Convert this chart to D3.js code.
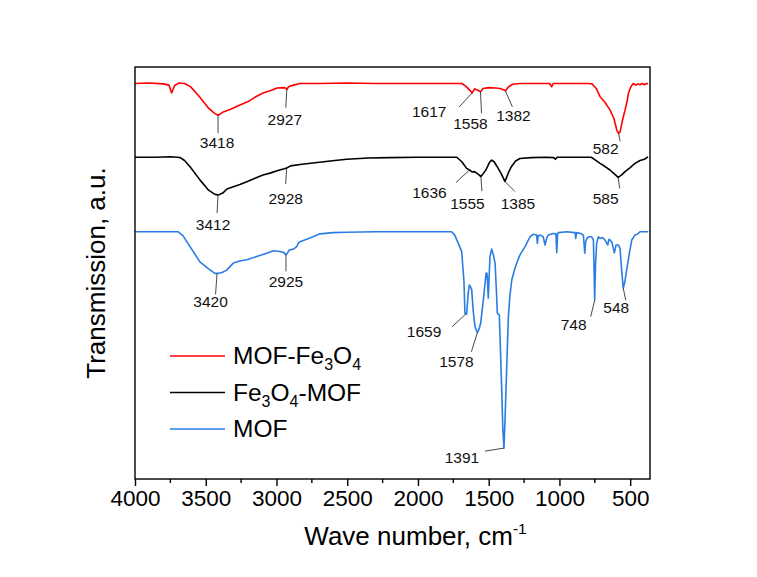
<!DOCTYPE html>
<html>
<head>
<meta charset="utf-8">
<script src="https://cdn.jsdelivr.net/npm/d3@7/dist/d3.min.js"></script>
<style>
  html, body { margin: 0; padding: 0; background: #fff; }
  svg { display: block; font-family: "Liberation Sans", Arial, Helvetica, sans-serif; }
</style>
</head>
<body>
<svg id="chart" width="757" height="577"></svg>
<script>
// ---------- DATA (wavenumber cm-1, transmission a.u.) ----------
const seriesNames = ["MOF-Fe3O4", "Fe3O4-MOF", "MOF"];

const mofFe3o4 = [
  [4000,96.0],[3900,96.1],[3800,95.9],[3760,95.6],[3741,93.7],[3720,95.5],[3690,96.1],[3650,96.0],
  [3610,95.3],[3550,93.0],[3480,90.0],[3440,88.8],[3413,88.3],[3380,89.0],[3320,89.8],[3258,90.8],
  [3200,91.6],[3150,92.7],[3095,93.7],[3040,94.3],[2996,94.9],[2950,95.0],[2935,94.9],[2927,94.5],
  [2915,95.2],[2880,95.6],[2834,96.0],[2700,96.0],[2500,96.1],[2300,96.0],[2000,96.0],[1800,96.0],
  [1690,96.0],[1660,95.3],[1630,94.2],[1617,93.7],[1600,94.7],[1585,94.5],[1558,94.0],[1540,94.8],
  [1500,95.0],[1450,94.9],[1420,94.8],[1395,94.5],[1382,94.2],[1360,95.2],[1330,95.8],[1280,96.0],
  [1150,96.0],[1070,96.0],[1055,95.2],[1045,96.0],[900,96.0],[800,96.0],[770,95.9],[740,94.8],
  [713,92.8],[680,91.5],[643,89.6],[615,87.5],[595,84.7],[582,83.9],[572,84.2],[555,87.0],
  [536,89.6],[520,92.0],[512,93.7],[495,95.2],[478,96.0],[460,95.6],[445,95.9],[430,95.7],
  [415,96.0],[400,95.7],[385,96.0],[374,95.9]
];

const fe3o4Mof = [
  [4000,78.1],[3850,78.1],[3750,78.2],[3700,78.1],[3680,78.0],[3650,77.3],[3611,75.8],[3541,72.6],
  [3480,70.1],[3440,69.2],[3413,68.9],[3380,69.4],[3350,70.4],[3300,71.0],[3258,71.5],[3180,72.6],
  [3095,73.8],[3040,74.3],[2996,74.8],[2945,75.3],[2928,75.5],[2900,76.0],[2820,76.4],[2742,76.7],
  [2620,77.2],[2504,77.6],[2350,77.9],[2200,78.0],[2000,78.1],[1800,78.1],[1726,78.1],[1690,77.0],
  [1656,75.4],[1636,75.0],[1615,74.5],[1600,74.6],[1575,74.0],[1555,73.4],[1535,74.3],[1520,75.0],
  [1495,76.8],[1479,77.4],[1462,77.0],[1440,75.8],[1410,74.0],[1385,72.2],[1360,74.4],[1340,75.8],
  [1310,77.2],[1279,77.8],[1200,78.0],[1100,78.1],[1040,78.0],[1029,77.6],[1015,78.1],[900,78.1],
  [800,78.1],[775,78.1],[745,77.4],[713,76.6],[680,75.9],[643,75.0],[610,74.0],[585,73.2],
  [560,73.8],[536,74.6],[500,75.6],[466,76.6],[430,77.3],[400,77.6],[374,78.2]
];

const mof = [
  [4000,60.0],[3850,60.0],[3694,60.0],[3660,59.0],[3611,56.4],[3541,52.7],[3480,51.0],[3435,49.9],
  [3413,49.9],[3380,50.2],[3352,50.7],[3305,52.4],[3260,52.9],[3210,53.2],[3140,54.0],[3069,54.8],
  [3022,55.4],[2975,55.2],[2950,55.0],[2933,54.4],[2920,55.0],[2910,55.6],[2880,55.8],[2857,56.4],
  [2845,57.3],[2834,57.6],[2763,58.5],[2692,59.5],[2600,59.8],[2504,59.9],[2300,60.0],[2000,60.0],
  [1800,60.0],[1762,60.0],[1740,59.2],[1715,57.2],[1691,55.2],[1675,48.0],[1668,40.2],[1656,40.0],
  [1645,45.0],[1637,47.1],[1628,46.6],[1620,45.9],[1610,41.0],[1597,37.0],[1580,35.5],[1567,36.5],
  [1557,37.8],[1538,43.4],[1519,49.9],[1513,50.0],[1510,49.0],[1503,43.9],[1497,49.0],[1491,54.0],
  [1479,55.8],[1467,54.4],[1455,52.4],[1446,46.0],[1439,40.2],[1425,39.8],[1408,21.6],[1400,12.0],
  [1392,7.5],[1385,14.0],[1378,21.6],[1361,39.4],[1350,44.5],[1337,48.3],[1320,50.5],[1302,52.4],
  [1279,54.4],[1243,56.4],[1208,58.8],[1185,59.4],[1161,59.2],[1156,57.2],[1150,59.0],[1137,59.2],
  [1115,58.8],[1102,56.8],[1090,58.5],[1079,59.2],[1043,59.6],[1025,59.5],[1019,54.9],[1013,59.5],
  [1008,59.8],[949,60.0],[890,59.8],[885,58.4],[878,59.8],[850,59.6],[831,59.2],[821,54.8],
  [815,57.6],[807,58.4],[790,58.8],[772,58.8],[760,58.0],[755,50.0],[751,43.4],[745,52.0],
  [737,57.2],[725,58.8],[713,58.4],[695,58.6],[678,58.0],[659,56.8],[650,58.2],[643,58.0],
  [630,57.5],[612,54.9],[600,56.8],[584,56.8],[572,56.0],[560,50.5],[549,46.3],[537,48.0],
  [525,50.7],[505,55.0],[489,58.0],[466,59.2],[450,59.4],[431,60.0],[400,60.0],[372,60.0]
];

const seriesData = [mofFe3o4, fe3o4Mof, mof];

// peak annotations
const peakLabels = ["3418","2927","1617","1558","1382","582",
                    "3412","2928","1636","1555","1385","585",
                    "3420","2925","1659","1578","1391","748","548"];
const peakSeries = [0,0,0,0,0,0, 1,1,1,1,1,1, 2,2,2,2,2,2,2];
const peakWave   = [3413,2927,1617,1558,1382,582, 3413,2928,1636,1555,1385,585, 3420,2933,1660,1580,1392,751,549];
const peakValue  = [88.3,94.5,93.7,94.0,94.2,83.9, 68.9,75.5,75.0,73.4,72.2,73.2, 49.9,54.4,40.1,35.5,7.5,43.4,46.3];

const xTicks = [4000,3500,3000,2500,2000,1500,1000,500];

// ---------- LAYOUT / STYLE ----------
const colors = ["#ff0000", "#000000", "#2b7de3"];
// leader-line end offset and text offset (px) for each annotation
const leaderOffsets = [
  [0,18,-1,33],[-1,18,-2,35],[-13,14,-43,24],[1,21.5,-10,37],[7,16,8,30],[1.5,8,-13,21],
  [-1,18,-5,35],[-1,16,-1,36],[-13.5,12.5,-40,28],[1,14.5,-13.5,32.5],[10,10,13,27.5],[1.5,11,-12.5,26.6],
  [-1.5,21,-6.5,33.3],[0,16.5,0,32.4],[-14,13,-42,23],[-6,19,-21,34.6],[-19,3,-42,14.6],[-4,16.5,-21,30],[2.5,12,-7,24.5]
];

const margin = {left: 135, right: 650, top: 67, bottom: 479};
const svg = d3.select("#chart");

const x = d3.scaleLinear().domain([4000, 360]).range([margin.left, margin.right]);
const y = d3.scaleLinear().domain([0, 100]).range([margin.bottom, margin.top]);

svg.append("defs").append("clipPath").attr("id", "plotclip")
  .append("rect").attr("x", margin.left).attr("y", margin.top)
  .attr("width", margin.right - margin.left).attr("height", margin.bottom - margin.top);

const line = d3.line().x(d => x(d[0])).y(d => y(d[1])).curve(d3.curveLinear);

const plot = svg.append("g").attr("clip-path", "url(#plotclip)");
seriesData.forEach((s, i) => {
  plot.append("path").datum(s)
    .attr("d", line)
    .attr("fill", "none")
    .attr("stroke", colors[i])
    .attr("stroke-width", 1.6)
    .attr("stroke-linejoin", "round");
});

// annotations
const ann = svg.append("g");
peakLabels.forEach((lab, i) => {
  const ax = x(peakWave[i]), ay = y(peakValue[i]);
  const o = leaderOffsets[i];
  ann.append("line")
    .attr("x1", ax).attr("y1", ay)
    .attr("x2", ax + o[0]).attr("y2", ay + o[1])
    .attr("stroke", "#333").attr("stroke-width", 0.9);
  ann.append("text")
    .attr("x", ax + o[2]).attr("y", ay + o[3])
    .attr("text-anchor", "middle")
    .attr("font-size", "15.5px")
    .attr("fill", "#111")
    .text(lab);
});

// frame
svg.append("rect")
  .attr("x", margin.left).attr("y", margin.top)
  .attr("width", margin.right - margin.left).attr("height", margin.bottom - margin.top)
  .attr("fill", "none").attr("stroke", "#000").attr("stroke-width", 1.4);

// x axis
const xAxis = d3.axisBottom(x).tickValues(xTicks).tickSize(7).tickPadding(4).tickFormat(d3.format("d"));
const gx = svg.append("g").attr("transform", `translate(0,${margin.bottom})`).call(xAxis);
gx.select(".domain").remove();
gx.selectAll(".tick line").attr("stroke", "#000").attr("stroke-width", 1.4);
gx.selectAll(".tick text").attr("font-size", "22.5px").attr("fill", "#000")
  .attr("font-family", "Liberation Sans, Arial, sans-serif");

const minorTicks = d3.range(3750, 360, -500);
svg.append("g").selectAll("line").data(minorTicks).join("line")
  .attr("x1", d => x(d)).attr("x2", d => x(d))
  .attr("y1", margin.bottom).attr("y2", margin.bottom + 4)
  .attr("stroke", "#000").attr("stroke-width", 1.4);

// axis titles
const xt = svg.append("text")
  .attr("x", (margin.left + margin.right) / 2 + 23).attr("y", 545)
  .attr("text-anchor", "middle").attr("font-size", "26px").attr("fill", "#000");
xt.append("tspan").text("Wave number, cm");
xt.append("tspan").attr("dy", -11).attr("font-size", "15.5px").text("-1");

svg.append("text")
  .attr("transform", `translate(105,${(margin.top + margin.bottom) / 2}) rotate(-90)`)
  .attr("text-anchor", "middle").attr("font-size", "26px").attr("fill", "#000")
  .text("Transmission, a.u.");

// legend
const legY = [356, 392.5, 429];
const leg = svg.append("g");
seriesNames.forEach((name, i) => {
  leg.append("line").attr("x1", 170).attr("x2", 225).attr("y1", legY[i]).attr("y2", legY[i])
    .attr("stroke", colors[i]).attr("stroke-width", 1.6);
  const t = leg.append("text").attr("x", 233).attr("y", legY[i] + 8)
    .attr("font-size", "24.5px").attr("fill", "#000");
  const parts = name.split(/(\d)/).filter(p => p.length);
  let sub = false;
  parts.forEach(p => {
    if (/^\d$/.test(p)) {
      t.append("tspan").attr("dy", 6).attr("font-size", "16px").text(p);
      sub = true;
    } else {
      const ts = t.append("tspan");
      if (sub) { ts.attr("dy", -6); sub = false; }
      ts.text(p);
    }
  });
});
</script>
</body>
</html>
